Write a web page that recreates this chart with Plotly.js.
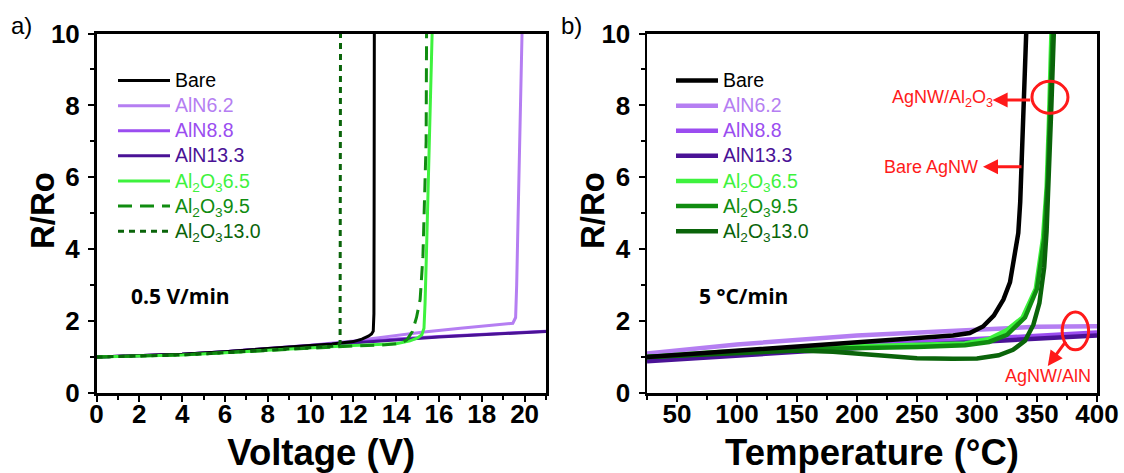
<!DOCTYPE html>
<html>
<head>
<meta charset="utf-8">
<script src="https://cdn.plot.ly/plotly-3.0.1.min.js"></script>
<style>html,body{margin:0;padding:0;background:#fff;}#chart{width:1124px;height:473px;}</style>
</head>
<body>
<div id="chart"></div>
<script>
// ---------- Panel a) : R/Ro vs Voltage ----------
const vBare   = [0, 2, 4, 6, 8, 10, 11, 12, 12.4, 12.7, 12.85, 12.93, 12.96, 12.97, 12.98];
const rBare   = [1.0, 1.03, 1.08, 1.15, 1.23, 1.31, 1.36, 1.43, 1.5, 1.58, 1.64, 1.72, 2.2, 5, 10];
const vAlN62  = [0, 2, 4, 6, 8, 10, 12, 14, 15.3, 17, 19, 19.45, 19.58, 19.63, 19.7, 19.8, 19.88];
const rAlN62  = [1.0, 1.03, 1.08, 1.15, 1.23, 1.33, 1.45, 1.6, 1.7, 1.8, 1.9, 1.94, 2.1, 3, 5, 7.5, 10];
const vAlN88  = [0, 2, 4, 6, 8, 10, 12, 14, 16, 18, 20, 21];
const rAlN88  = [1.0, 1.03, 1.08, 1.15, 1.24, 1.32, 1.41, 1.5, 1.57, 1.63, 1.69, 1.72];
const vAlN133 = [0, 2, 4, 6, 8, 10, 12, 14, 16, 18, 20, 21];
const rAlN133 = [1.0, 1.03, 1.08, 1.15, 1.23, 1.31, 1.4, 1.49, 1.56, 1.62, 1.68, 1.71];
const vAl65   = [0, 2, 4, 6, 8, 10, 12, 14, 14.65, 15.0, 15.2, 15.3, 15.35, 15.42, 15.5, 15.55, 15.68];
const rAl65   = [1.0, 1.02, 1.06, 1.12, 1.19, 1.26, 1.32, 1.37, 1.45, 1.53, 1.62, 1.8, 2.5, 4, 6, 7, 10];
const vAl95   = [0, 2, 4, 6, 8, 10, 12, 13.5, 14.2, 14.5, 14.75, 14.95, 15.12, 15.25, 15.33, 15.4, 15.42];
const rAl95   = [1.0, 1.02, 1.06, 1.12, 1.19, 1.26, 1.31, 1.34, 1.38, 1.48, 1.7, 2.1, 2.6, 3.8, 5.5, 7, 10];
const vAl130  = [0, 2, 4, 6, 8, 10, 11, 11.3, 11.38, 11.4];
const rAl130  = [1.0, 1.02, 1.06, 1.12, 1.19, 1.26, 1.3, 1.33, 1.4, 10];

// ---------- Panel b) : R/Ro vs Temperature ----------
const tBare   = [25, 100, 150, 200, 250, 280, 294, 305, 314, 322, 327.5, 331, 334.4, 336, 337, 338.6, 340, 341];
const qBare   = [1.0, 1.18, 1.3, 1.42, 1.52, 1.6, 1.67, 1.85, 2.15, 2.6, 3.08, 3.7, 4.45, 5.3, 6.2, 7.14, 8.5, 10];
const tAlN62  = [25, 100, 200, 300, 350, 400];
const qAlN62  = [1.1, 1.35, 1.6, 1.78, 1.84, 1.86];
const tAlN88  = [25, 100, 200, 300, 400];
const qAlN88  = [0.95, 1.12, 1.32, 1.5, 1.68];
const tAlN133 = [25, 100, 200, 300, 400];
const qAlN133 = [0.88, 1.05, 1.25, 1.42, 1.6];
const tAl65   = [25, 75, 150, 200, 250, 290, 310, 325, 338, 349, 355, 358, 360, 362];
const qAl65   = [1.0, 1.12, 1.25, 1.3, 1.33, 1.38, 1.5, 1.75, 2.1, 2.9, 4.3, 5.7, 7.6, 10];
const tAl95   = [25, 75, 150, 250, 290, 310, 325, 340, 350, 356, 359, 361, 363];
const qAl95   = [1.0, 1.1, 1.22, 1.28, 1.33, 1.42, 1.62, 2.1, 2.9, 4.3, 6, 8, 10];
const tAl130  = [25, 100, 150, 180, 210, 250, 280, 300, 318, 330, 340, 347, 352, 356, 358, 360, 362, 364];
const qAl130  = [1.0, 1.12, 1.18, 1.15, 1.06, 0.97, 0.95, 0.96, 1.05, 1.2, 1.45, 1.9, 2.5, 3.5, 4.5, 6, 8, 10];

const names = ['Bare', 'AlN6.2', 'AlN8.8', 'AlN13.3',
  'Al<sub>2</sub>O<sub>3</sub>6.5', 'Al<sub>2</sub>O<sub>3</sub>9.5', 'Al<sub>2</sub>O<sub>3</sub>13.0'];
const colors = ['#000000', '#b57ef2', '#9b4df0', '#4a1296', '#3ef23e', '#108c10', '#0a640a'];
const dashesA = ['solid', 'solid', 'solid', 'solid', 'solid', '14px,8px', '6px,5px'];

const leftX = [vBare, vAlN62, vAlN88, vAlN133, vAl65, vAl95, vAl130];
const leftY = [rBare, rAlN62, rAlN88, rAlN133, rAl65, rAl95, rAl130];
const rightX = [tBare, tAlN62, tAlN88, tAlN133, tAl65, tAl95, tAl130];
const rightY = [qBare, qAlN62, qAlN88, qAlN133, qAl65, qAl95, qAl130];
const drawOrderA = [1, 2, 3, 0, 4, 5, 6];
const drawOrderB = [1, 2, 3, 4, 5, 6, 0];

const FONT = 'Liberation Sans, Arial, sans-serif';
const W = 1124, H = 473;
const px = v => v / W, py = v => 1 - v / H;

const label = (i) => '<span style="color:' + colors[i] + ';font-size:19.5px">' + names[i] + '</span>';

const traces = [];
drawOrderA.forEach(i => {
  traces.push({
    x: leftX[i], y: leftY[i], type: 'scatter', mode: 'lines',
    name: label(i), legend: 'legend', legendrank: i,
    line: {color: colors[i], width: 3, dash: dashesA[i]},
    xaxis: 'x', yaxis: 'y', hoverinfo: 'skip'
  });
});
drawOrderB.forEach(i => {
  traces.push({
    x: rightX[i], y: rightY[i], type: 'scatter', mode: 'lines',
    name: label(i), legend: 'legend2', legendrank: i,
    line: {color: colors[i], width: 4.5},
    xaxis: 'x2', yaxis: 'y2', hoverinfo: 'skip'
  });
});

const tickFont = {family: FONT, size: 26, color: '#000', weight: 'bold'};
const titleFont = {family: FONT, size: 36.5, color: '#000', weight: 'bold'};
const yTitleFont = {family: FONT, size: 33, color: '#000', weight: 'bold'};

function xAxis(domain, range, dtick, minorD, title) {
  return {
    domain: domain, range: range, tick0: 0, dtick: dtick,
    ticks: 'outside', ticklen: 6, tickwidth: 2, tickcolor: '#000', ticklabelstandoff: -10,
    minor: {dtick: minorD, tick0: 0, ticks: 'outside', ticklen: 4, tickwidth: 2, tickcolor: '#000', showgrid: false},
    showline: true, linewidth: 2.5, linecolor: '#000', mirror: true,
    showgrid: false, zeroline: false, tickfont: tickFont,
    title: {text: title, font: titleFont, standoff: 12}, automargin: false
  };
}
function yAxis(anchor) {
  return {
    domain: [py(393), py(33.5)], range: [0, 10], tick0: 0, dtick: 2, anchor: anchor,
    ticks: 'outside', ticklen: 6, tickwidth: 2, tickcolor: '#000', ticklabelstandoff: 3,
    minor: {dtick: 1, tick0: 0, ticks: 'outside', ticklen: 4, tickwidth: 2, tickcolor: '#000', showgrid: false},
    showline: true, linewidth: 2.5, linecolor: '#000', mirror: true,
    showgrid: false, zeroline: false, tickfont: tickFont, automargin: false
  };
}

const legendBase = {
  bgcolor: 'rgba(0,0,0,0)', borderwidth: 0, xanchor: 'left', yanchor: 'top',
  font: {family: FONT, size: 17, color: '#000'}, traceorder: 'normal', tracegroupgap: 0
};

const redFont = {family: FONT, size: 18, color: '#ff1a1a'};
const rateFont = {family: 'Open Sans, sans-serif', size: 21, color: '#000', weight: 'bold'};

const layout = {
  width: W, height: H,
  margin: {l: 0, r: 0, t: 0, b: 0},
  paper_bgcolor: '#fff', plot_bgcolor: '#fff',
  showlegend: true,
  xaxis: Object.assign(xAxis([px(96.5), px(546)], [0, 21], 2, 1, 'Voltage (V)'), {anchor: 'y'}),
  yaxis: yAxis('x'),
  xaxis2: Object.assign(xAxis([px(647), px(1097)], [25, 400], 50, 25, 'Temperature (°C)'), {anchor: 'y2'}),
  yaxis2: yAxis('x2'),
  legend: Object.assign({}, legendBase, {x: px(113), y: py(63), itemwidth: 52}),
  legend2: Object.assign({}, legendBase, {x: px(671), y: py(63), itemwidth: 42}),
  annotations: [
    {text: 'R/Ro', xref: 'paper', yref: 'paper', x: px(43), y: py(211), xanchor: 'center', yanchor: 'middle',
     textangle: -90, showarrow: false, font: yTitleFont},
    {text: 'R/Ro', xref: 'paper', yref: 'paper', x: px(593), y: py(211), xanchor: 'center', yanchor: 'middle',
     textangle: -90, showarrow: false, font: yTitleFont},
    {text: 'a)', xref: 'paper', yref: 'paper', x: px(9), y: py(26), xanchor: 'left', yanchor: 'middle',
     showarrow: false, font: {family: FONT, size: 24, color: '#000'}},
    {text: 'b)', xref: 'paper', yref: 'paper', x: px(559), y: py(26), xanchor: 'left', yanchor: 'middle',
     showarrow: false, font: {family: FONT, size: 24, color: '#000'}},
    {text: '0.5 V/min', xref: 'x', yref: 'y', x: 1.5, y: 2.7, xanchor: 'left', yanchor: 'middle',
     showarrow: false, font: rateFont},
    {text: '5 °C/min', xref: 'x2', yref: 'y2', x: 67, y: 2.7, xanchor: 'left', yanchor: 'middle',
     showarrow: false, font: rateFont},
    {text: 'AgNW/Al<sub>2</sub>O<sub>3</sub>', xref: 'x2', yref: 'y2', x: 315, y: 8.2, xanchor: 'right', yanchor: 'middle',
     showarrow: false, font: redFont},
    {text: '', xref: 'x2', yref: 'y2', x: 313, y: 8.15, ax: 39, ay: 0, showarrow: true,
     arrowcolor: '#ff1a1a', arrowwidth: 3, arrowhead: 2, arrowsize: 1},
    {text: 'Bare AgNW', xref: 'x2', yref: 'y2', x: 302.5, y: 6.29, xanchor: 'right', yanchor: 'middle',
     showarrow: false, font: redFont},
    {text: '', xref: 'x2', yref: 'y2', x: 305, y: 6.29, ax: 40, ay: 0, showarrow: true,
     arrowcolor: '#ff1a1a', arrowwidth: 3, arrowhead: 2, arrowsize: 1},
    {text: 'AgNW/AlN', xref: 'x2', yref: 'y2', x: 358.8, y: 0.47, xanchor: 'center', yanchor: 'middle',
     showarrow: false, font: redFont},
    {text: '', xref: 'x2', yref: 'y2', x: 359, y: 0.75, ax: 19, ay: -26, showarrow: true,
     arrowcolor: '#ff1a1a', arrowwidth: 3, arrowhead: 2, arrowsize: 1}
  ],
  shapes: [
    {type: 'circle', xref: 'x2', yref: 'y2', x0: 345.8, x1: 375.8, y0: 7.78, y1: 8.67,
     line: {color: '#ff1a1a', width: 3}},
    {type: 'circle', xref: 'x2', yref: 'y2', x0: 371, x1: 393, y0: 1.2, y1: 2.25,
     line: {color: '#ff1a1a', width: 3}}
  ]
};

Plotly.newPlot('chart', traces, layout, {staticPlot: true, displayModeBar: false});
</script>
</body>
</html>
